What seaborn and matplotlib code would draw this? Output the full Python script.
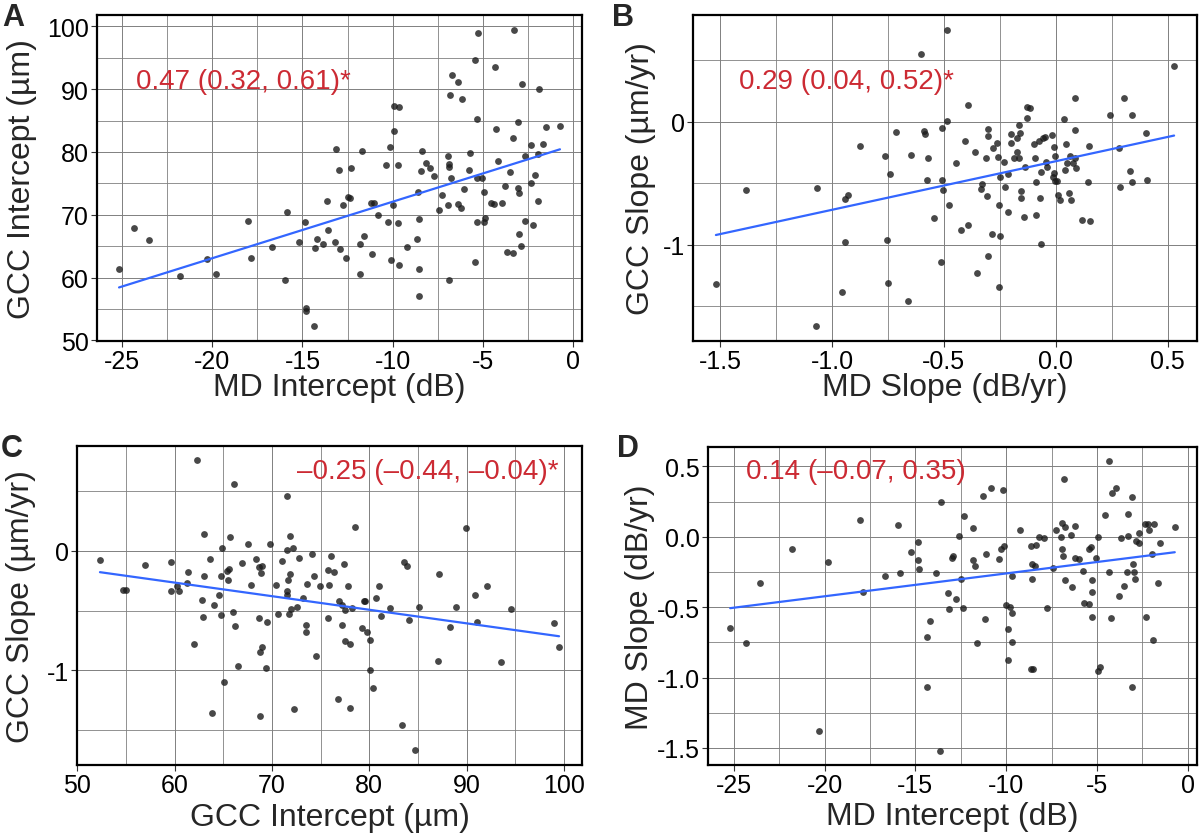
import numpy as np
import pandas as pd
import seaborn as sns
import matplotlib
matplotlib.use("Agg")
import matplotlib.pyplot as plt
from matplotlib.ticker import MultipleLocator, FormatStrFormatter

# panel A: MD intercept vs GCC intercept
a_md_int = [-25.17, -24.34, -23.52, -21.79, -20.31, -19.81, -18.0, -17.88, -16.70, -15.94,
            -15.85, -15.2, -14.87, -14.83, -14.78, -14.34, -14.32, -14.17, -13.87, -13.63,
            -13.58, -13.17, -13.12, -12.97, -12.9, -12.73, -12.6, -12.47, -12.34, -12.33,
            -11.83, -11.81, -11.68, -11.61, -11.22, -11.13, -11.05, -10.83, -10.37, -10.24,
            -10.15, -10.09, -9.98, -9.91, -9.91, -9.72, -9.69, -9.65, -9.63, -9.22,
            -8.65, -8.6, -8.56, -8.54, -8.52, -8.41, -8.37, -8.15, -7.91, -7.73,
            -7.4, -7.27, -6.94, -6.94, -6.9, -6.88, -6.85, -6.79, -6.77, -6.73,
            -6.4, -6.37, -6.18, -6.16, -6.02, -5.76, -5.72, -5.44, -5.44, -5.3,
            -5.3, -5.3, -5.28, -5.04, -4.92, -4.94, -4.85, -4.56, -4.37, -4.3,
            -4.26, -4.15, -3.95, -3.76, -3.63, -3.5, -3.34, -3.3, -3.27, -3.06,
            -3.03, -2.99, -2.97, -2.9, -2.82, -2.67, -2.64, -2.32, -2.31, -2.2,
            -2.12, -1.96, -1.92, -1.88, -1.68, -1.48, -0.72]
a_gcc_int = [61.3, 67.9, 66.0, 60.2, 63.0, 60.5, 69.0, 63.05, 64.8, 59.6,
             70.45, 65.65, 68.8, 55.1, 54.7, 52.3, 64.75, 66.2, 65.4, 72.25,
             67.55, 65.6, 80.4, 77.1, 64.6, 71.6, 63.05, 72.8, 72.6, 77.4,
             65.4, 60.5, 80.1, 66.6, 71.8, 63.7, 71.9, 69.9, 77.9, 68.9,
             80.8, 62.8, 71.5, 83.4, 87.3, 68.7, 78.0, 62.0, 87.1, 64.9,
             66.2, 73.6, 57.0, 69.4, 61.4, 76.9, 80.1, 78.2, 77.4, 76.1,
             70.7, 73.2, 71.5, 79.4, 77.6, 78.1, 59.6, 89.0, 75.9, 92.2,
             91.1, 71.7, 71.0, 88.4, 74.1, 77.2, 79.8, 94.6, 62.4, 85.2,
             68.8, 75.8, 99.0, 75.8, 73.6, 68.8, 69.5, 71.9, 71.7, 93.55,
             83.7, 78.6, 71.9, 74.5, 64.1, 76.8, 63.85, 82.2, 99.5, 74.25,
             84.7, 66.9, 73.5, 65.1, 90.9, 79.3, 69.0, 81.1, 75.05, 68.4,
             76.3, 72.2, 79.6, 90.0, 81.3, 83.9, 84.1]

# panel B: MD slope vs GCC slope
b_md_slope = [-1.519, -1.383, -1.072, -1.069, -0.955, -0.944, -0.943, -0.927, -0.875, -0.762,
              -0.754, -0.748, -0.739, -0.714, -0.661, -0.649, -0.603, -0.591, -0.584, -0.575,
              -0.573, -0.543, -0.514, -0.509, -0.508, -0.502, -0.487, -0.484, -0.475, -0.445,
              -0.423, -0.404, -0.393, -0.393, -0.359, -0.352, -0.334, -0.328, -0.312, -0.307,
              -0.304, -0.301, -0.301, -0.286, -0.282, -0.263, -0.260, -0.252, -0.251, -0.252,
              -0.248, -0.233, -0.229, -0.215, -0.212, -0.199, -0.198, -0.185, -0.175, -0.171,
              -0.165, -0.163, -0.159, -0.157, -0.157, -0.141, -0.138, -0.130, -0.127, -0.113,
              -0.096, -0.092, -0.090, -0.087, -0.076, -0.070, -0.067, -0.064, -0.055, -0.049,
              -0.044, -0.037, -0.015, -0.013, -0.009, -0.006, -0.004, -0.003, 0.005, 0.008,
              0.021, 0.039, 0.042, 0.045, 0.051, 0.060, 0.064, 0.070, 0.078, 0.084,
              0.085, 0.086, 0.089, 0.116, 0.149, 0.143, 0.155, 0.242, 0.282, 0.288,
              0.303, 0.330, 0.339, 0.342, 0.403, 0.409, 0.529]
b_gcc_slope = [-1.317, -0.551, -1.66, -0.540, -1.382, -0.626, -0.974, -0.594, -0.197, -0.281,
               -0.961, -1.309, -0.421, -0.081, -1.455, -0.273, 0.551, -0.076, -0.097, -0.470,
               -0.291, -0.785, -1.142, -0.470, -0.049, -0.559, 0.005, 0.750, -0.675, -0.337,
               -0.877, -0.154, 0.138, -0.842, -0.246, -1.233, -0.548, -0.507, -0.294, -0.605,
               -0.116, -0.059, -1.09, -0.915, -0.213, -0.173, -0.283, -0.675, -0.926, -1.347,
               -0.453, -0.327, -0.532, -0.737, -0.424, -0.103, -0.173, -0.294, -0.243, -0.132,
               -0.294, -0.027, -0.089, -0.561, -0.621, -0.772, -0.372, 0.119, 0.027, 0.111,
               -0.181, -0.297, -0.756, -0.489, -0.159, -0.618, -0.407, -0.996, -0.130, -0.127,
               -0.327, -0.370, -0.111, -0.451, -0.416, -0.205, -0.278, -0.480, -0.480, -0.597,
               -0.640, 0.024, -0.394, -0.181, -0.335, -0.580, -0.278, -0.637, -0.335, -0.291,
               0.192, -0.070, -0.378, -0.799, -0.197, -0.489, -0.804, 0.051, -0.213, -0.529,
               0.197, -0.397, -0.489, 0.057, -0.092, -0.470, 0.451]

# panel C: GCC intercept vs GCC slope
c_gcc_int = [52.33, 54.66, 55.03, 56.98, 59.58, 59.58, 60.23, 60.5, 61.26, 61.39,
             61.97, 62.35, 62.79, 62.96, 63.03, 63.07, 63.68, 63.85, 64.02, 64.54,
             64.74, 64.81, 64.88, 65.12, 65.36, 65.46, 65.63, 65.66, 66.0, 66.11,
             66.18, 66.55, 66.89, 67.58, 67.85, 68.33, 68.64, 68.67, 68.74, 68.74,
             68.88, 69.01, 69.01, 69.39, 69.46, 69.83, 70.42, 70.65, 71.03, 71.54,
             71.54, 71.58, 71.58, 71.65, 71.75, 71.82, 71.89, 71.92, 72.2, 72.23,
             72.57, 72.81, 73.15, 73.49, 73.46, 73.59, 74.11, 74.28, 74.48, 74.96,
             75.71, 75.78, 75.88, 76.05, 76.33, 76.81, 76.84, 77.15, 77.25, 77.42,
             77.46, 77.52, 77.8, 77.97, 78.04, 78.21, 78.55, 79.27, 79.44, 79.57,
             79.75, 80.09, 80.12, 80.4, 80.7, 81.05, 81.18, 82.14, 83.37, 83.61,
             83.85, 84.09, 84.7, 85.11, 87.06, 87.2, 88.33, 88.91, 89.97, 90.82,
             91.03, 92.09, 93.52, 94.55, 98.99, 99.5]
c_gcc_slope = [-0.075, -0.325, -0.328, -0.114, -0.092, -0.333, -0.292, -0.333, -0.269, -0.172,
               -0.783, 0.758, -0.408, -0.55, 0.142, -0.206, -0.069, -1.353, -0.453, -0.372,
               -0.536, -0.211, 0.028, -1.097, -0.167, -0.244, -0.147, 0.114, -0.508, 0.558,
               -0.628, -0.964, -0.097, 0.056, -0.281, -0.064, -0.558, -0.131, -0.844, -1.386,
               -0.181, -0.122, -0.8, -0.978, -0.594, 0.061, -0.283, -0.531, -0.081, -0.367,
               -0.339, 0.458, 0.011, -0.244, -0.528, 0.125, -0.192, -0.489, 0.028, -1.322,
               -0.467, -0.058, -0.392, -0.617, -0.678, -0.275, -0.028, -0.211, -0.878, -0.292,
               -0.156, -0.564, -0.283, -0.044, -0.178, -1.239, -0.422, -0.622, -0.456, -0.106,
               -0.492, -0.758, -0.292, -1.314, -0.775, -0.481, 0.203, -0.642, -0.417, -0.417,
               -0.675, -0.742, -1.0, -1.144, -0.397, -0.294, -0.544, -0.481, -1.461, -0.092,
               -0.128, -0.578, -1.667, -0.469, -0.919, -0.194, -0.636, -0.469, 0.194, -0.372,
               -0.597, -0.292, -0.928, -0.489, -0.606, -0.806]

# panel D: MD intercept vs MD slope
d_md_int = [-25.2, -24.34, -23.54, -21.79, -20.31, -19.82, -18.03, -17.89, -16.69, -15.96,
            -15.87, -15.23, -14.88, -14.84, -14.79, -14.35, -14.35, -14.17, -13.88, -13.66,
            -13.57, -13.18, -13.13, -12.98, -12.91, -12.75, -12.6, -12.49, -12.36, -12.33,
            -11.83, -11.83, -11.71, -11.63, -11.25, -11.16, -11.09, -10.85, -10.39, -10.28,
            -10.16, -10.1, -10.01, -9.9, -9.88, -9.76, -9.7, -9.66, -9.66, -9.25,
            -8.64, -8.53, -8.61, -8.6, -8.56, -8.41, -8.38, -8.17, -7.9, -7.73,
            -7.42, -7.26, -6.97, -6.95, -6.91, -6.89, -6.8, -6.78, -6.73, -6.4,
            -6.35, -6.18, -6.22, -6.0, -5.75, -5.69, -5.43, -5.45, -5.31, -5.29,
            -5.27, -5.25, -5.04, -4.95, -4.93, -4.85, -4.56, -4.36, -4.32, -4.25,
            -4.16, -3.94, -3.76, -3.65, -3.5, -3.34, -3.3, -3.26, -3.08, -3.05,
            -3.01, -2.97, -2.9, -2.84, -2.66, -2.66, -2.33, -2.3, -2.21, -2.13,
            -1.97, -1.93, -1.86, -1.66, -1.5, -0.71]
d_md_slope = [-0.645, -0.757, -0.325, -0.086, -1.381, -0.178, 0.121, -0.39, -0.277, 0.082,
              -0.254, -0.107, -0.167, -0.04, -0.229, -0.711, -1.068, -0.599, -0.256, -1.518,
              0.247, -0.399, -0.512, -0.153, -0.134, -0.44, 0.003, -0.298, -0.507, 0.146,
              0.059, -0.167, -0.21, -0.751, 0.293, -0.585, -0.125, 0.346, -0.16, -0.089,
              0.334, -0.063, -0.482, -0.656, -0.872, -0.498, -0.746, -0.539, -0.282, 0.045,
              -0.941, -0.941, -0.066, -0.3, -0.192, -0.206, -0.059, -0.004, -0.008, -0.505,
              -0.224, 0.049, -0.004, 0.095, -0.086, -0.137, 0.41, 0.072, -0.307, 0.01,
              -0.357, 0.075, -0.153, -0.16, -0.24, -0.472, -0.479, -0.086, -0.072, -0.569,
              -0.305, -0.39, -0.148, -0.953, 0.001, -0.923, 0.153, 0.537, -0.247, -0.578,
              0.309, 0.344, -0.42, -0.008, -0.348, -0.249, 0.008, 0.16, 0.286, -1.07,
              -0.194, -0.249, -0.298, -0.031, -0.047, 0.026, 0.091, -0.569, 0.091, 0.049,
              -0.121, -0.732, 0.089, -0.328, -0.043, 0.066]

annotations = ["0.47 (0.32, 0.61)*", "0.29 (0.04, 0.52)*",
               "\u20130.25 (\u20130.44, \u20130.04)*", "0.14 (\u20130.07, 0.35)"]

sns.set_style("white")
plt.rcParams["font.family"] = ["Liberation Sans", "DejaVu Sans"]
plt.rcParams["axes.unicode_minus"] = False

W, H = 1200, 837
fig = plt.figure(figsize=(W / 100, H / 100), dpi=100)


def px_axes(l, t, r, b):
    return fig.add_axes([l / W, 1 - b / H, (r - l) / W, (b - t) / H])


def draw_panel(ax, x, y, xlab, ylab, xmaj, xmin, ymaj, ymin, note, note_pos, note_ha,
               xlab_y, ylab_x):
    df = pd.DataFrame({"x": x, "y": y})
    sns.regplot(data=df, x="x", y="y", ax=ax, ci=None,
                scatter_kws=dict(s=24, color="#1a1a1a", alpha=0.8, linewidths=0, zorder=3),
                line_kws=dict(color="#3366FF", lw=1.6, zorder=4))
    ax.margins(0.05)
    ax.xaxis.set_major_locator(MultipleLocator(xmaj))
    ax.xaxis.set_minor_locator(MultipleLocator(xmin))
    ax.yaxis.set_major_locator(MultipleLocator(ymaj))
    ax.yaxis.set_minor_locator(MultipleLocator(ymin))
    ax.grid(True, which="major", color="#808080", lw=0.7, zorder=0)
    ax.grid(True, which="minor", color="#808080", lw=0.6, zorder=0)
    ax.set_axisbelow(True)
    for sp in ax.spines.values():
        sp.set_visible(True)
        sp.set_color("black")
        sp.set_linewidth(1.6)
    ax.tick_params(which="major", direction="out", length=4, width=0.8,
                   color="#333333", labelsize=18, pad=2,
                   bottom=True, left=True, labelcolor="black")
    ax.tick_params(which="minor", length=0)
    ax.set_xlabel(xlab, fontsize=23, va="center")
    ax.set_ylabel(ylab, fontsize=23, va="center")
    ax.xaxis.set_label_coords(0.5, xlab_y)
    ax.yaxis.set_label_coords(ylab_x, 0.5)
    ax.text(note_pos[0], note_pos[1], note, transform=ax.transAxes, fontsize=20,
            color="#CC2A33", ha=note_ha, va="center", zorder=5)


axA = px_axes(97, 15.7, 582, 341.7)
axB = px_axes(693, 15.7, 1197, 341.7)
axC = px_axes(77, 447, 582, 765.5)
axD = px_axes(708, 447.7, 1197, 766)

draw_panel(axA, a_md_int, a_gcc_int, "MD Intercept (dB)", "GCC Intercept (\u00b5m)",
           5, 2.5, 10, 5, annotations[0], (0.08, 0.797), "left", -0.142, -0.155)
draw_panel(axB, b_md_slope, b_gcc_slope, "MD Slope (dB/yr)", "GCC Slope (\u00b5m/yr)",
           0.5, 0.25, 1, 0.5, annotations[1], (0.092, 0.797), "left", -0.142, -0.103)
draw_panel(axC, c_gcc_int, c_gcc_slope, "GCC Intercept (\u00b5m)", "GCC Slope (\u00b5m/yr)",
           10, 5, 1, 0.5, annotations[2], (0.953, 0.922), "right", -0.165, -0.111)
draw_panel(axD, d_md_int, d_md_slope, "MD Intercept (dB)", "MD Slope (dB/yr)",
           5, 2.5, 0.5, 0.25, annotations[3], (0.078, 0.925), "left", -0.16, -0.14)

axB.xaxis.set_major_formatter(FormatStrFormatter("%.1f"))
axD.yaxis.set_major_formatter(FormatStrFormatter("%.1f"))

for letter, xp, yp in [("A", 2, 26), ("B", 612, 26), ("C", 1, 457), ("D", 617, 457)]:
    fig.text(xp / W, 1 - yp / H, letter, fontsize=22, fontweight="bold",
             ha="left", va="baseline")

fig.savefig("out.png", dpi=100)
